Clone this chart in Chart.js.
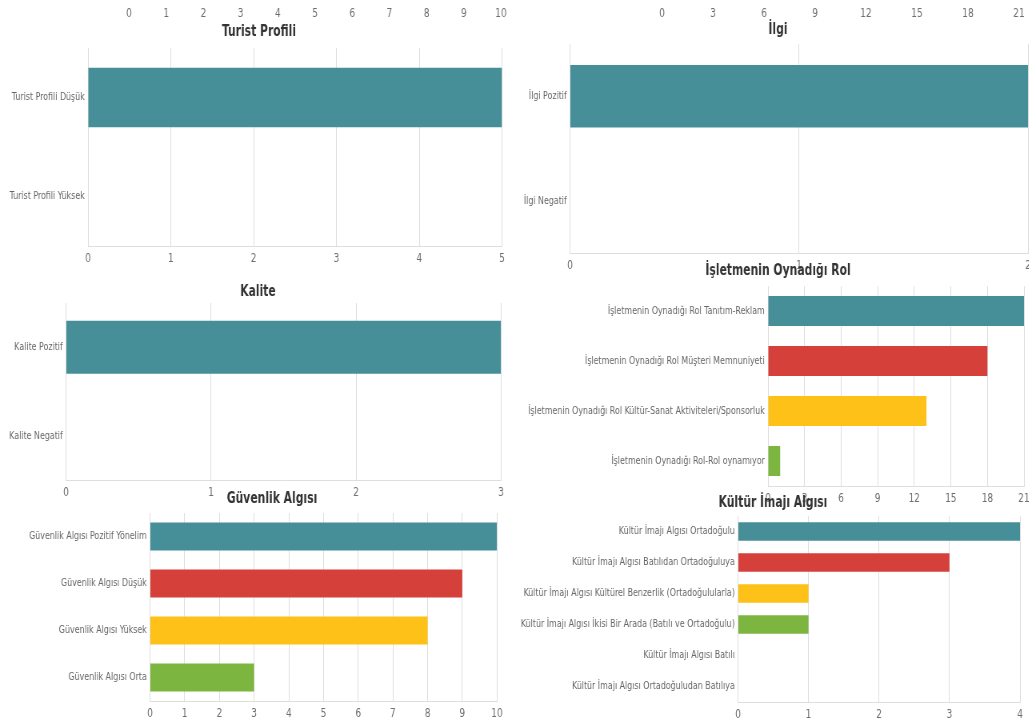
<!DOCTYPE html>
<html lang="tr">
<head>
<meta charset="utf-8">
<title>Algı Grafikleri</title>
<script src="https://cdn.jsdelivr.net/npm/chart.js@4.4.1/dist/chart.umd.min.js"></script>
<style>
  html, body { margin: 0; padding: 0; background: #fff; overflow: hidden; }
  body { width: 1029px; height: 722px; position: relative; }
  canvas { position: absolute; left: 0; top: 0; transform-origin: 0 0; }
</style>
</head>
<body>
<canvas id="ustSol"></canvas>
<canvas id="ustSag"></canvas>
<canvas id="turist"></canvas>
<canvas id="ilgi"></canvas>
<canvas id="kalite"></canvas>
<canvas id="rol"></canvas>
<canvas id="guvenlik"></canvas>
<canvas id="kultur"></canvas>
<script>
// --- data ---
// charts above the page only show their value axis
const ustSolLabels = [];
const ustSolValues = [];
const ustSolAxis = [10, 1];          // max, step

const ustSagLabels = [];
const ustSagValues = [];
const ustSagAxis = [21, 3];

const turistLabels = ['Turist Profili Düşük', 'Turist Profili Yüksek'];
const turistValues = [5, 0];
const turistAxis = [5, 1];

const ilgiLabels = ['İlgi Pozitif', 'İlgi Negatif'];
const ilgiValues = [2, 0];
const ilgiAxis = [2, 1];

const kaliteLabels = ['Kalite Pozitif', 'Kalite Negatif'];
const kaliteValues = [3, 0];
const kaliteAxis = [3, 1];

const rolLabels = [
    'İşletmenin Oynadığı Rol Tanıtım-Reklam',
    'İşletmenin Oynadığı Rol Müşteri Memnuniyeti',
    'İşletmenin Oynadığı Rol Kültür-Sanat Aktiviteleri/Sponsorluk',
    'İşletmenin Oynadığı Rol-Rol oynamıyor'
];
const rolValues = [21, 18, 13, 1];
const rolAxis = [21, 3];

const guvenlikLabels = [
    'Güvenlik Algısı Pozitif Yönelim',
    'Güvenlik Algısı Düşük',
    'Güvenlik Algısı Yüksek',
    'Güvenlik Algısı Orta'
];
const guvenlikValues = [10, 9, 8, 3];
const guvenlikAxis = [10, 1];

const kulturLabels = [
    'Kültür İmajı Algısı Ortadoğulu',
    'Kültür İmajı Algısı Batılıdan Ortadoğuluya',
    'Kültür İmajı Algısı Kültürel Benzerlik (Ortadoğulularla)',
    'Kültür İmajı Algısı İkisi Bir Arada (Batılı ve Ortadoğulu)',
    'Kültür İmajı Algısı Batılı',
    'Kültür İmajı Algısı Ortadoğuludan Batılıya'
];
const kulturValues = [4, 3, 1, 1, 0, 0];
const kulturAxis = [4, 1];

// --- drawing ---
const W = 1029, H = 722;
const SX = 0.8;   // horizontal squeeze of every canvas
const FONT = "'Liberation Sans Narrow', 'DejaVu Sans Condensed', 'Open Sans', sans-serif";
const GRID = '#dedede';
const palette = ['#468f99', '#d6403a', '#fdc117', '#7cb640', '#468f99', '#d6403a'];

// title drawn at a fixed spot on the page
const pageTitle = {
    id: 'pageTitle',
    afterDraw(chart, args, opts) {
        if (!opts.text) return;
        const ctx = chart.ctx;
        ctx.save();
        ctx.font = `bold 15px ${FONT}`;
        ctx.fillStyle = '#333';
        ctx.textAlign = 'center';
        ctx.textBaseline = 'middle';
        ctx.fillText(opts.text, opts.x / SX, opts.y + (opts.off || 0));
        ctx.restore();
    }
};
Chart.register(pageTitle);

// area = [left, right, top, bottom] of the plot in page pixels
function barChart(id, labels, values, axis, area, title, off) {
    off = off || 0;
    const hasCats = labels.length > 0;
    const cw = Math.round(W / SX);
    const canvas = document.getElementById(id);
    canvas.width = cw;
    canvas.height = H;
    canvas.style.top = (-off) + 'px';
    canvas.style.transform = `scaleX(${SX})`;
    const xh = 22;
    const left = area[0] / SX, right = area[1] / SX;
    const yw = hasCats ? left : 0;

    return new Chart(canvas, {
        type: 'bar',
        data: {
            labels: labels,
            datasets: [{
                data: values,
                backgroundColor: palette,
                categoryPercentage: 1,
                barPercentage: 0.6
            }]
        },
        options: {
            indexAxis: 'y',
            responsive: false,
            animation: false,
            layout: {
                padding: {
                    left: left - yw,
                    top: area[2] + off,
                    right: cw - right,
                    bottom: H - (area[3] + off) - xh
                }
            },
            scales: {
                x: {
                    min: 0,
                    max: axis[0],
                    afterFit: s => { s.height = xh; s.paddingLeft = 0; s.paddingRight = 0; },
                    grid: { display: hasCats, color: GRID, drawTicks: false },
                    border: { display: hasCats, color: GRID },
                    ticks: {
                        stepSize: axis[1],
                        autoSkip: false,
                        maxRotation: 0,
                        padding: 5,
                        color: '#6e6e6e',
                        font: { family: FONT, size: 12.5 }
                    }
                },
                y: {
                    display: hasCats,
                    afterFit: s => { s.width = yw; s.paddingTop = 0; s.paddingBottom = 0; },
                    grid: { display: false, drawTicks: false },
                    border: { color: GRID },
                    ticks: {
                        padding: 4,
                        color: '#666',
                        font: { family: FONT, size: 11 }
                    }
                }
            },
            plugins: {
                legend: { display: false },
                tooltip: { enabled: false },
                pageTitle: title ? { text: title[0], x: title[1], y: title[2], off: off } : {}
            }
        }
    });
}

barChart('ustSol', ustSolLabels, ustSolValues, ustSolAxis, [129, 501, -150, 1], null, 200);
barChart('ustSag', ustSagLabels, ustSagValues, ustSagAxis, [662, 1019, -150, 1], null, 200);
barChart('turist', turistLabels, turistValues, turistAxis, [88, 502, 48, 246], ['Turist Profili', 259, 32]);
barChart('ilgi', ilgiLabels, ilgiValues, ilgiAxis, [570, 1028, 44, 253], ['İlgi', 778, 30]);
barChart('kalite', kaliteLabels, kaliteValues, kaliteAxis, [66, 501, 303, 480], ['Kalite', 258, 292]);
barChart('rol', rolLabels, rolValues, rolAxis, [768, 1024, 286, 486], ['İşletmenin Oynadığı Rol', 778, 271]);
barChart('guvenlik', guvenlikLabels, guvenlikValues, guvenlikAxis, [150, 497, 513, 701], ['Güvenlik Algısı', 272, 499]);
barChart('kultur', kulturLabels, kulturValues, kulturAxis, [738, 1020, 516, 702], ['Kültür İmajı Algısı', 773, 503]);
</script>
</body>
</html>
